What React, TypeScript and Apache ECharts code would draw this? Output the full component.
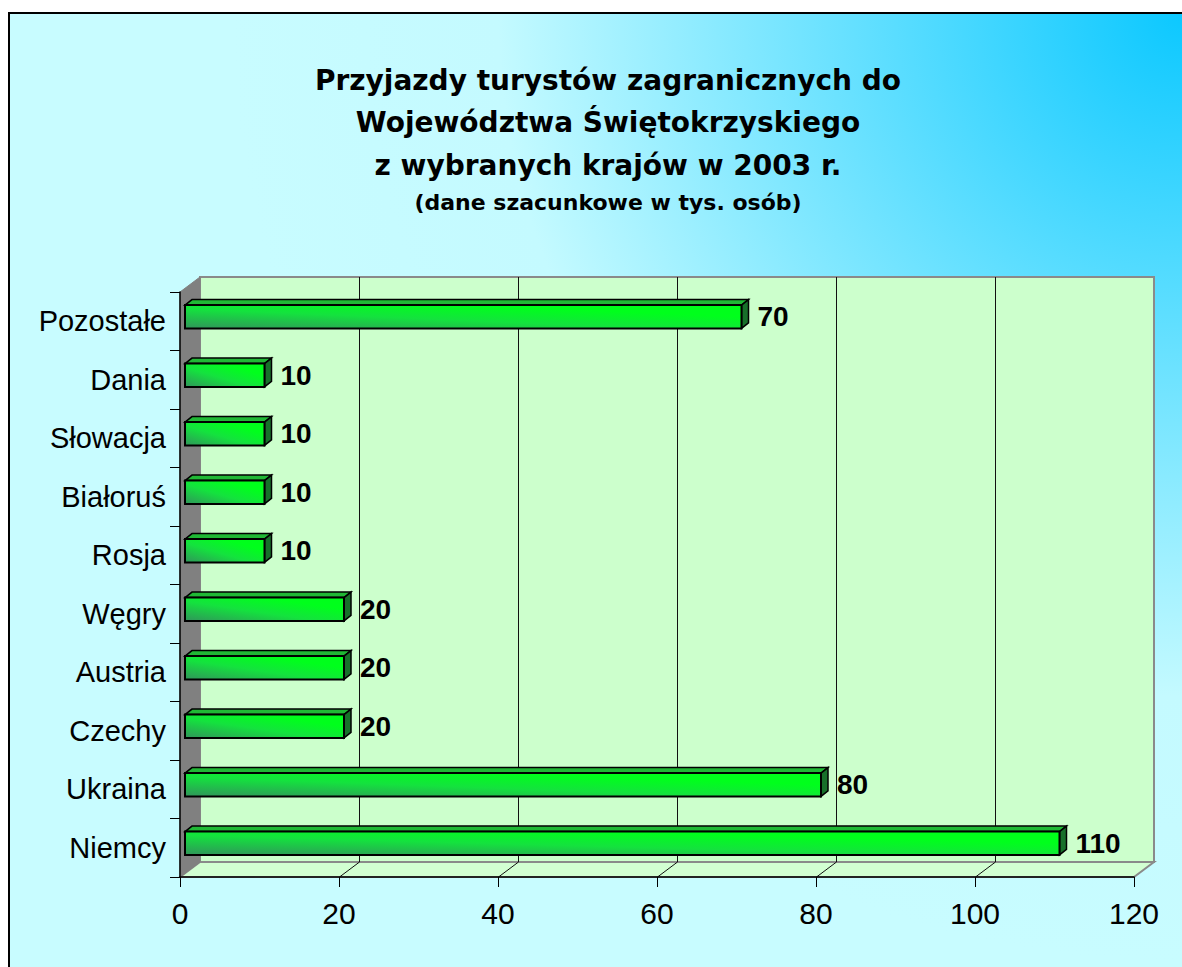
import React, { useEffect, useRef } from "react";
import * as echarts from "echarts";

// Data (bottom to top, as ECharts category y-axis runs upward)
const categories = ["Niemcy", "Ukraina", "Czechy", "Austria", "Węgry", "Rosja", "Białoruś", "Słowacja", "Dania", "Pozostałe"];
const values = [110, 80, 20, 20, 20, 10, 10, 10, 10, 70];
const xTicks = [0, 20, 40, 60, 80, 100, 120];
const titleLines = ["Przyjazdy turystów zagranicznych do", "Województwa Świętokrzyskiego", "z wybranych krajów w 2003 r."];
const subtitle = "(dane szacunkowe w tys. osób)";

// 3D geometry
const DX = 20;
const DY = -15;
const FX = 5;
const FY = -4.5;
const BX = 7;
const BY = -5.5;

export default function App() {
  const ref = useRef<HTMLDivElement>(null);
  useEffect(() => {
    if (!ref.current) return;
    const chart = echarts.init(ref.current, null, { renderer: "svg" });

    const wallsRender = (params: any, api: any) => {
      const cs = params.coordSys;
      const L = cs.x, T = cs.y, R = cs.x + cs.width, B = cs.y + cs.height;
      const children: any[] = [];
      children.push({
        type: "rect",
        shape: { x: L + DX, y: T + DY, width: cs.width, height: cs.height },
        style: { fill: "#ccffcc", stroke: "#8a8a8a", lineWidth: 2 },
      });
      children.push({
        type: "polygon",
        shape: { points: [[L, B], [L + DX, B + DY], [R + DX, B + DY], [R, B]] },
        style: { fill: "#d2ffd2", stroke: "#8a8a8a", lineWidth: 2 },
      });
      children.push({
        type: "polygon",
        shape: { points: [[L, T], [L + DX, T + DY], [L + DX, B + DY], [L, B]] },
        style: { fill: "#808080", stroke: "#808080", lineWidth: 1 },
      });
      xTicks.forEach((t) => {
        if (t === xTicks[0] || t === xTicks[xTicks.length - 1]) return;
        const x = Math.round(api.coord([t, 0])[0]) + 0.5;
        children.push({
          type: "line",
          shape: { x1: x + DX, y1: T + DY, x2: x + DX, y2: B + DY },
          style: { stroke: "#111", lineWidth: 1 },
        });
        children.push({
          type: "line",
          shape: { x1: x, y1: B, x2: x + DX, y2: B + DY },
          style: { stroke: "#111", lineWidth: 1 },
        });
      });
      return { type: "group", children };
    };

    const barsRender = (params: any, api: any) => {
      const val = api.value(0);
      const cat = api.value(1);
      const end = api.coord([val, cat]);
      const start = api.coord([0, cat]);
      const band = api.size([0, 1])[1];
      const h = band * 0.4;
      const x0 = start[0] + FX;
      const x1 = end[0] + FX;
      const yc = end[1] + FY;
      const top = yc - h / 2;
      const bottom = yc + h / 2;
      return {
        type: "group",
        children: [
          {
            type: "polygon",
            shape: { points: [[x0, top], [x0 + BX, top + BY], [x1 + BX, top + BY], [x1, top]] },
            style: { fill: "#20b835", stroke: "#000", lineWidth: 1.5 },
          },
          {
            type: "polygon",
            shape: { points: [[x1, top], [x1 + BX, top + BY], [x1 + BX, bottom + BY], [x1, bottom]] },
            style: { fill: "#17702a", stroke: "#000", lineWidth: 1.5 },
          },
          {
            type: "rect",
            shape: { x: x0, y: top, width: x1 - x0, height: h },
            style: {
              fill: new echarts.graphic.LinearGradient(0, 1, 1, 0, [
                { offset: 0, color: "#30955a" },
                { offset: 0.42, color: "#14e23e" },
                { offset: 0.75, color: "#00ff1c" },
                { offset: 1, color: "#00ff1a" },
              ]),
              stroke: "#000",
              lineWidth: 2,
            },
          },
          {
            type: "text",
            x: x1 + 16,
            y: yc,
            style: {
              text: String(val),
              fill: "#000",
              fontSize: 28,
              fontWeight: "bold",
              fontFamily: "Liberation Sans, Arial, sans-serif",
              verticalAlign: "middle",
              align: "left",
            },
          },
        ],
      };
    };

    chart.setOption({
      animation: false,
      backgroundColor: "#ffffff",
      title: {
        text: titleLines.join("\n"),
        subtext: subtitle,
        left: 603,
        top: 54,
        textAlign: "center",
        itemGap: 2,
        textStyle: {
          fontSize: 28,
          fontWeight: "bold",
          fontFamily: "DejaVu Sans",
          color: "#000",
          lineHeight: 42.5,
        },
        subtextStyle: {
          fontSize: 22,
          fontWeight: "bold",
          fontFamily: "DejaVu Sans",
          color: "#000",
          lineHeight: 28,
        },
        z: 10,
      },
      graphic: [
        {
          type: "rect",
          z: -100,
          silent: true,
          shape: { x: 9, y: 13, width: 1200, height: 1000 },
          style: {
            fill: new echarts.graphic.RadialGradient(1182, 12, 950, [
              { offset: 0, color: "#0cc8ff" },
              { offset: 0.72, color: "#c4faff" },
              { offset: 1, color: "#c8fcff" },
            ], true),
            stroke: "#000",
            lineWidth: 2,
          },
        },
      ],
      grid: { left: 180, top: 292, width: 954, height: 585, containLabel: false },
      xAxis: {
        type: "value",
        min: 0,
        max: 120,
        interval: 20,
        z: 5,
        axisLine: { show: true, lineStyle: { color: "#000", width: 1.5 } },
        axisTick: { show: true, length: 10, lineStyle: { color: "#000" } },
        axisLabel: { fontSize: 30, color: "#000", fontFamily: "Liberation Sans, Arial, sans-serif", margin: 21 },
        splitLine: { show: false },
      },
      yAxis: {
        type: "category",
        data: categories,
        z: 5,
        axisLine: { show: true, lineStyle: { color: "#000", width: 1.5 } },
        axisTick: { show: true, length: 10, alignWithLabel: false, lineStyle: { color: "#000" } },
        axisLabel: { fontSize: 29, color: "#000", fontFamily: "Liberation Sans, Arial, sans-serif", margin: 14 },
        splitLine: { show: false },
      },
      series: [
        {
          type: "custom",
          z: 1,
          clip: false,
          silent: true,
          renderItem: wallsRender,
          data: [[0, 0]],
          encode: { x: 0, y: 1 },
        },
        {
          type: "custom",
          z: 8,
          clip: false,
          renderItem: barsRender,
          data: values.map((v, i) => [v, i]),
          encode: { x: 0, y: 1 },
        },
      ],
    });
    return () => chart.dispose();
  }, []);
  return <div ref={ref} style={{ position: "absolute", left: 0, top: 0, width: 1182, height: 967 }} />;
}
